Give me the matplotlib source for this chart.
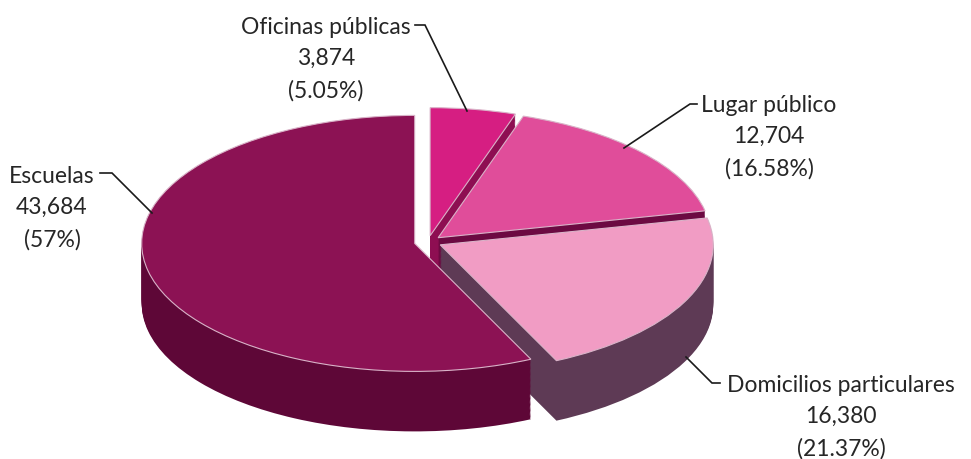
import matplotlib
matplotlib.use('Agg')
import matplotlib.pyplot as plt
import numpy as np

# ---- data ----
categories = ['Oficinas públicas', 'Lugar público', 'Domicilios particulares', 'Escuelas']
values = [3874, 12704, 16380, 43684]
value_labels = ['3,874', '12,704', '16,380', '43,684']
percent_labels = ['5.05%', '16.58%', '21.37%', '57%']

# ---- style ----
top_colors = ['#D61E82', '#E04D9A', '#F19CC4', '#8C1254']
side_colors = ['#8E0E52', '#6C0A42', '#5E3A55', '#5E0737']
explode = [0.05, 0.05, 0.05, 0.05]

W, H = 971, 459
CX, CY, RX, RY, DEPTH = 428, 242, 273, 128, 60

plt.rcParams['font.family'] = ['Lato', 'DejaVu Sans']

fig = plt.figure(figsize=(W / 100, H / 100), dpi=100)
ax = fig.add_axes([0, 0, 1, 1])


def P(px, py):
    return ((px - CX) / RX, -(py - CY) / RY)


depth = DEPTH / RY
n = 50
for k in range(n, 0, -1):
    off = depth * k / n
    ax.pie(values, explode=explode, colors=side_colors, startangle=90,
           counterclock=False, center=(0, -off), radius=1,
           wedgeprops=dict(linewidth=0))
ax.pie(values, explode=explode, colors=top_colors, startangle=90,
       counterclock=False, center=(0, 0), radius=1,
       wedgeprops=dict(edgecolor='#d9b3c8', linewidth=0.8))

ax.set_aspect('auto')
x0, y0 = P(0, H)
x1, y1 = P(W, 0)
ax.set_xlim(x0, x1)
ax.set_ylim(y0, y1)
ax.axis('off')

# ---- labels ----
label_pos = [(326, 59), (769, 137), (841, 417), (52, 208)]
leaders = [
    [(415, 25), (425, 25), (467, 111)],
    [(697, 104), (690, 104), (624, 148)],
    [(720, 383), (712, 383), (686, 357)],
    [(100, 173), (112, 173), (152, 213)],
]
for cat, v, p, (tx, ty), pts in zip(categories, value_labels, percent_labels,
                                     label_pos, leaders):
    x, y = P(tx, ty)
    ax.text(x, y, f'{cat}\n{v}\n({p})', ha='center', va='center',
            fontsize=16.5, color='#262626', linespacing=1.62)
    xs, ys = zip(*[P(a, b) for a, b in pts])
    ax.plot(xs, ys, color='#1a1a1a', lw=1.2, solid_joinstyle='miter')

fig.savefig('out.png', dpi=100)
